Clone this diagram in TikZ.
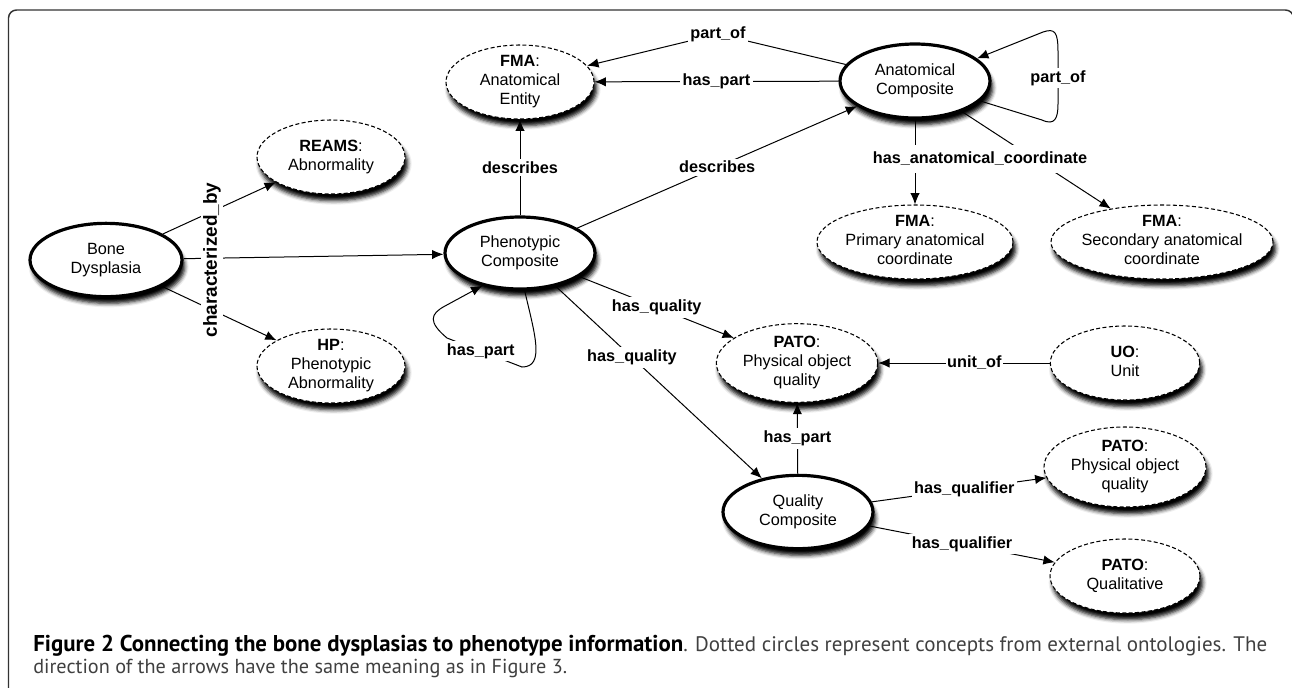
\documentclass[tikz,border=0pt]{standalone}
\usepackage{fontspec}
\usepackage{graphicx}
\setmainfont{Liberation Sans}
\newfontfamily\capfont{PT Sans}
\usetikzlibrary{arrows.meta,shapes.geometric,shadows.blur}
\newcommand\ctx[1]{\makebox[0pt]{\raisebox{-0.25em}[0pt][0pt]{\begin{tabular}{@{}c@{}}#1\end{tabular}}}}
\tikzset{
  shad/.style={blur shadow={shadow xshift=2pt, shadow yshift=-5pt, shadow blur radius=3pt, shadow opacity=100}},
  core/.style={ellipse, draw, line width=2.4pt, fill=white, inner sep=0pt, shad},
  ext/.style={ellipse, draw, dash pattern=on 3pt off 1.8pt, line width=0.8pt, fill=white, inner sep=0pt, shad},
  arr/.style={line width=0.75pt, -{Latex[length=8.5pt,width=7pt]}},
  lbl/.style={fill=white, font=\bfseries\fontsize{12.2pt}{14pt}\selectfont, inner sep=2pt},
  every node/.append style={font=\fontsize{12.2pt}{14.3pt}\selectfont},
}
\begin{document}
\begin{tikzpicture}[x=0.75pt,y=-0.75pt]
\useasboundingbox (0,0) rectangle (1292,687);
\clip (0,0) rectangle (1292,687);
\draw[line width=1.1pt, black!80, rounded corners=6pt] (8.5,10) rectangle (1293.5,720);

% nodes
\node[core, minimum width=114pt, minimum height=55pt] (bone) at (106,260) {\ctx{Bone\\Dysplasia}};
\node[ext, minimum width=111pt, minimum height=55.5pt] (reams) at (331,157) {\ctx{\textbf{REAMS}:\\Abnormality}};
\node[ext, minimum width=111pt, minimum height=55.5pt] (hp) at (331,366) {\ctx{\textbf{HP}:\\Phenotypic\\Abnormality}};
\node[ext, minimum width=111pt, minimum height=55.5pt] (fmaae) at (520,82) {\ctx{\textbf{FMA}:\\Anatomical\\Entity}};
\node[core, minimum width=112.5pt, minimum height=54pt] (pheno) at (520,253) {\ctx{Phenotypic\\Composite}};
\node[core, minimum width=112.5pt, minimum height=55.5pt] (ac) at (915,81) {\ctx{Anatomical\\Composite}};
\node[ext, minimum width=147pt, minimum height=55.5pt] (prim) at (915,242) {\ctx{\textbf{FMA}:\\Primary anatomical\\coordinate}};
\node[ext, minimum width=166.5pt, minimum height=55.5pt] (sec) at (1162,242) {\ctx{\textbf{FMA}:\\Secondary anatomical\\coordinate}};
\node[ext, minimum width=121pt, minimum height=59pt] (pato1) at (797,363) {\ctx{\textbf{PATO}:\\Physical object\\quality}};
\node[ext, minimum width=112pt, minimum height=55.5pt] (uo) at (1125,363) {\ctx{\textbf{UO}:\\Unit}};
\node[ext, minimum width=121.5pt, minimum height=60pt] (pato2) at (1125,467) {\ctx{\textbf{PATO}:\\Physical object\\quality}};
\node[core, minimum width=112.5pt, minimum height=55pt] (qual) at (798,512) {\ctx{Quality\\Composite}};
\node[ext, minimum width=112.5pt, minimum height=55.5pt] (pato3) at (1125,576) {\ctx{\textbf{PATO}:\\Qualitative}};

% characterized_by
\draw[arr] (bone) -- (reams);
\draw[arr] (bone) -- (pheno);
\draw[arr] (bone) -- (hp);
\node[lbl, rotate=90, font=\bfseries\fontsize{14.2pt}{16pt}\selectfont, inner sep=1.5pt] (charby) at (212,260) {characterized\_by};

% describes
\draw[arr] (pheno) -- node[lbl]{describes} (fmaae);
\draw[arr] (pheno) -- node[lbl]{describes} (ac);

% anatomical composite to FMA
\draw[arr] (ac) -- node[lbl]{has\_part} (fmaae);
\coordinate (pobend) at (718,34);
\draw[arr] (ac) -- (pobend) -- (fmaae);
\node[lbl] (polbl) at (pobend) {part\_of};

% self loop part_of
\draw[arr] (ac.-17) -- (1042,120) .. controls (1055,126) and (1058,118) .. (1058,104) -- (1058,52) .. controls (1058,32) and (1055,28) .. (1043,32) -- (ac.20);
\node[lbl] (aclbl) at (1058,78) {part\_of};

% anatomical coordinates
\draw[arr] (ac) -- (prim);
\draw[arr] (ac) -- (sec);
\node[lbl, inner ysep=5pt] (hac) at (980,159) {has\_anatomical\_coordinate};

% qualities
\draw[arr] (pheno) -- node[lbl]{has\_quality} (pato1);
\draw[arr] (pheno) -- node[lbl, pos=0.37]{has\_quality} (qual);
\draw[arr] (pheno.-83) .. controls (535,335) and (545,367) .. (522,367) -- node[lbl, pos=0.55]{has\_part} (447,338) .. controls (428,322) and (430,314) .. (445,306) -- (pheno.-139);
\draw[arr] (qual) -- node[lbl]{has\_part} (pato1);
\draw[arr] (uo) -- node[lbl, pos=0.44, inner xsep=1pt]{unit\_of} (pato1);
\draw[arr] (qual) -- node[lbl, pos=0.53]{has\_qualifier} (pato2);
\draw[arr] (qual) -- node[lbl, pos=0.5]{has\_qualifier} (pato3);

% caption
\node[anchor=base west, inner sep=0pt, font=\capfont\fontsize{15pt}{18pt}\selectfont] (cap1) at (33,651) {\resizebox{487.5pt}{!}{\textbf{Figure 2 Connecting the bone dysplasias to phenotype information}}\resizebox{438pt}{!}{\color{black!75}. Dotted circles represent concepts from external ontologies. The}};
\node[anchor=base west, inner sep=0pt, font=\capfont\fontsize{15pt}{18pt}\selectfont, text=black!75] (cap2) at (33,673) {\resizebox{400.5pt}{!}{direction of the arrows have the same meaning as in Figure 3.}};
\end{tikzpicture}
\end{document}
